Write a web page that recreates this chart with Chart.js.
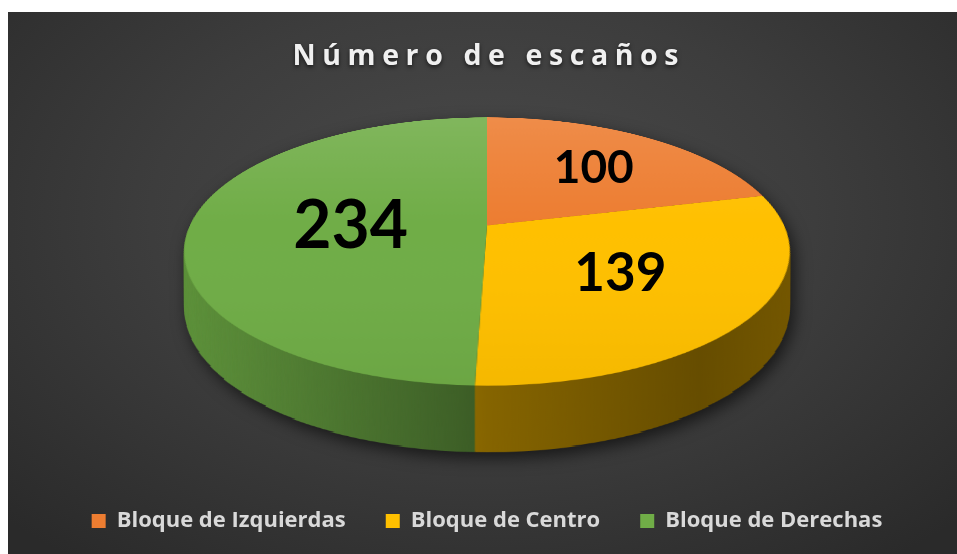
<!DOCTYPE html>
<html><head><meta charset="utf-8">
<script src="https://cdn.jsdelivr.net/npm/chart.js@4.4.1/dist/chart.umd.min.js"></script>
<style>
html,body{margin:0;padding:0;background:#fff;width:957px;height:554px;overflow:hidden;}
#wrap{position:absolute;left:8px;top:12px;width:949px;height:542px;
background:radial-gradient(ellipse 70% 80% at 50% 38%, #4b4b4b 0%, #3d3d3d 50%, #2a2a2a 100%);}
canvas{display:block}
</style></head><body>
<div id="wrap"><canvas id="c"></canvas></div>
<script>
// ---- data ----
const categories = ['Bloque de Izquierdas', 'Bloque de Centro', 'Bloque de Derechas'];
const seats = [100, 139, 234];
const titleText = 'Número de escaños';

// ---- styles ----
const sliceColors = ['#ED7D31', '#FFC000', '#70AD47'];
const labelSizes = [46, 53, 66];
const labelRadius = [0.64, 0.54, 0.46];
const view = { tilt: 0.4346, depth: 0.182, persp: -0.194 };

function project(cx, yc, A, B, u, sx, sy) {
  const w = 1 + u * sy;
  return { x: cx + A * sx / w, y: yc + B * sy / w };
}

const pie3d = {
  id: 'pie3d',
  beforeDatasetsDraw(chart) {
    const ctx = chart.ctx;
    const arcs = chart.getDatasetMeta(0).data;
    if (!arcs.length) return false;
    const a0 = arcs[0];
    const R = a0.outerRadius, A = R, B = R * view.tilt, D = R * view.depth, u = view.persp;
    const area = chart.chartArea;
    const cx = a0.x;
    const off = ((B + D) / (1 + u) - B / (1 - u)) / 2;
    const yc = (area.top + area.bottom) / 2 - off;
    const S = Math.ceil(2 * R) + 2;
    const src = document.createElement('canvas'); src.width = S; src.height = S;
    const sctx = src.getContext('2d');
    sctx.save(); sctx.translate(S / 2 - a0.x, S / 2 - a0.y);
    arcs.forEach(el => el.draw(sctx));
    sctx.restore();

    const rows = [];
    const yTop = Math.floor(yc - B / (1 - u)) - 1, yBot = Math.ceil(yc + B / (1 + u)) + 1;
    for (let y = yTop; y <= yBot; y++) {
      const dy = y + 0.5 - yc;
      const t = dy / (B - u * dy);
      if (t < -1 || t > 1) continue;
      const w = 1 + u * t;
      rows.push({ y, sy: S / 2 + t * R - 0.5, half: (S / 2) * (A / R) / w, d: D / w });
    }
    // side walls
    const W = chart.width, H = chart.height;
    const side = document.createElement('canvas'); side.width = W; side.height = H;
    const c2 = side.getContext('2d');
    rows.forEach(r => c2.drawImage(src, 0, r.sy, S, 1, cx - r.half, r.y, 2 * r.half, r.d + 1));
    c2.globalCompositeOperation = 'source-atop';
    const g = c2.createLinearGradient(cx - A * 1.02, 0, cx + A * 1.02, 0);
    g.addColorStop(0, 'rgba(0,0,0,0.16)');
    g.addColorStop(0.45, 'rgba(0,0,0,0.44)');
    g.addColorStop(0.5, 'rgba(0,0,0,0.48)');
    g.addColorStop(0.85, 'rgba(0,0,0,0.60)');
    g.addColorStop(1, 'rgba(0,0,0,0.55)');
    c2.fillStyle = g; c2.fillRect(0, 0, W, H);
    ctx.save();
    ctx.shadowColor = 'rgba(0,0,0,0.6)'; ctx.shadowBlur = 16; ctx.shadowOffsetX = 4; ctx.shadowOffsetY = 6;
    ctx.drawImage(side, 0, 0);
    ctx.restore();
    // top face lighting
    sctx.globalCompositeOperation = 'source-atop';
    const g2 = sctx.createLinearGradient(0, 0, 0, S);
    g2.addColorStop(0, 'rgba(255,255,255,0.12)');
    g2.addColorStop(0.5, 'rgba(255,255,255,0.0)');
    g2.addColorStop(1, 'rgba(0,0,0,0.04)');
    sctx.fillStyle = g2; sctx.fillRect(0, 0, S, S);
    rows.forEach(r => ctx.drawImage(src, 0, r.sy, S, 1, cx - r.half, r.y, 2 * r.half, 1));
    // value labels
    arcs.forEach((el, i) => {
      const mid = (el.startAngle + el.endAngle) / 2;
      const f = labelRadius[i];
      const p = project(cx, yc, A, B, u, f * Math.cos(mid), f * Math.sin(mid));
      ctx.save();
      ctx.font = 'bold ' + labelSizes[i] + 'px Lato';
      ctx.fillStyle = '#000';
      ctx.textAlign = 'center';
      ctx.textBaseline = 'alphabetic';
      ctx.fillText(String(chart.data.datasets[0].data[i]), p.x, p.y + 0.36 * labelSizes[i]);
      ctx.restore();
    });
    return false;
  },
  afterDraw(chart) {
    const ctx = chart.ctx, area = chart.chartArea;
    ctx.save();
    ctx.font = 'bold 28.5px "Open Sans"';
    ctx.letterSpacing = '6.6px';
    ctx.fillStyle = '#f0f0f0';
    ctx.textAlign = 'center';
    ctx.textBaseline = 'alphabetic';
    ctx.shadowColor = 'rgba(0,0,0,0.6)'; ctx.shadowBlur = 4; ctx.shadowOffsetY = 2;
    ctx.fillText(titleText, (area.left + area.right) / 2 + 1.8, area.top - 35);
    ctx.restore();
  }
};

Promise.all([
  document.fonts.load('bold 22px "Open Sans"'),
  document.fonts.load('bold 46px Lato')
]).catch(() => {}).then(() => {
  new Chart(document.getElementById('c'), {
    type: 'pie',
    data: {
      labels: categories,
      datasets: [{ data: seats, backgroundColor: sliceColors, borderWidth: 0, radius: 297 }]
    },
    options: {
      responsive: true, maintainAspectRatio: false, animation: false, events: [],
      rotation: 0,
      layout: { padding: { top: 88, bottom: 12, left: 9, right: 0 } },
      plugins: {
        title: { display: false },
        tooltip: { enabled: false },
        legend: {
          position: 'bottom',
          labels: {
            font: { family: 'Open Sans', size: 22, weight: 'bold' },
            color: '#d9d9d9', boxWidth: 14, boxHeight: 14, padding: 40
          }
        }
      }
    },
    plugins: [pie3d]
  });
});
</script>
</body></html>
